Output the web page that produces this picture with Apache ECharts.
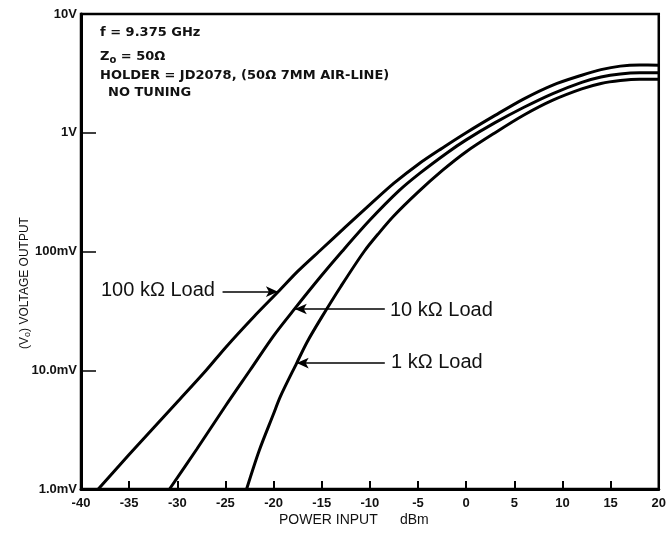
<!DOCTYPE html>
<html>
<head>
<meta charset="utf-8">
<script src="https://cdn.jsdelivr.net/npm/echarts@6/dist/echarts.min.js"></script>
<style>
html, body { margin: 0; padding: 0; background: #fff; }
#chart { width: 669px; height: 533px; }
</style>
</head>
<body>
<div id="chart"></div>
<script>
// power input (dBm) and output voltage (mV)
var x100k = [-38.2, -35, -30, -27, -25, -22, -19.5, -17.5, -15, -12.5, -10, -7.5, -5, -2.5, 0, 3, 6, 9, 12, 14, 16, 18, 20];
var v100k = [1.0, 1.95, 5.4, 10, 15.5, 28.5, 46, 68, 105, 162, 248, 376, 541, 741, 1000, 1400, 1930, 2520, 3050, 3400, 3640, 3720, 3710];

var x10k = [-30.8, -28, -25, -22.45, -20, -17.8, -15, -12.9, -10, -7, -4.8, -2, 0, 3, 6, 9, 12, 14, 16, 18, 20];
var v10k = [1.0, 2.15, 5.0, 10, 19.5, 33, 63, 100, 184, 324, 457, 676, 871, 1216, 1640, 2140, 2660, 2950, 3130, 3200, 3200];

var x1k = [-22.8, -21.5, -20, -19.3, -17.6, -16.5, -15, -13, -10.6, -9, -7.5, -5, -2.5, 0, 3, 6, 9, 12, 14, 16, 18, 20];
var v1k = [1.0, 2.1, 4.3, 6.0, 11.5, 17.4, 28, 51, 100, 145, 200, 316, 479, 692, 1000, 1410, 1880, 2340, 2600, 2750, 2820, 2820];

// arrow from label to curve: [x from, x to, level mV]
var arrow100k = [-25.3, -19.55, 45.9];
var arrow10k = [-8.45, -17.8, 32.8];
var arrow1k = [-8.45, -17.6, 11.5];

var yTickLabels = { 1: '1.0mV', 10: '10.0mV', 100: '100mV', 1000: '1V', 10000: '10V' };

function pairs(xs, ys) {
    return xs.map(function (x, i) { return [x, ys[i]]; });
}

function arrowLine(a) {
    return {
        silent: true,
        symbol: ['none', 'arrow'],
        symbolSize: [8, 12],
        lineStyle: { color: '#000', width: 1.6, type: 'solid' },
        label: { show: false },
        data: [[{ coord: [a[0], a[2]] }, { coord: [a[1], a[2]] }]]
    };
}

function curve(name, data, arrow) {
    return {
        name: name,
        type: 'line',
        data: data,
        smooth: 0.3,
        showSymbol: false,
        lineStyle: { color: '#000', width: 3 },
        markLine: arrowLine(arrow)
    };
}

var font = "'Liberation Sans', Arial, sans-serif";
var noteFont = "bold 13px 'DejaVu Sans', sans-serif";
var chart = echarts.init(document.getElementById('chart'));

var option = {
    animation: false,
    backgroundColor: '#fff',
    textStyle: { fontFamily: font },
    grid: {
        left: 81, right: 10, top: 14, bottom: 44,
        show: true, borderColor: '#000', borderWidth: 2.5
    },
    xAxis: {
        type: 'value',
        min: -40, max: 20, interval: 5,
        axisLine: { onZero: false, lineStyle: { color: '#000', width: 3 } },
        axisTick: { inside: true, length: 8, lineStyle: { color: '#000', width: 2 } },
        axisLabel: { color: '#111', fontSize: 13, fontWeight: 'bold', margin: 8, fontFamily: font },
        splitLine: { show: false }
    },
    yAxis: {
        type: 'log',
        logBase: 10,
        min: 1, max: 10000,
        axisLine: { show: true, onZero: false, lineStyle: { color: '#000', width: 3 } },
        axisTick: { show: true, inside: true, length: 15, lineStyle: { color: '#000', width: 1.5 } },
        axisLabel: {
            color: '#111', fontSize: 13, fontWeight: 'bold', margin: 4, fontFamily: font,
            formatter: function (v) { return yTickLabels[Math.round(v)] || ''; }
        },
        splitLine: { show: false }
    },
    series: [
        curve('100 kΩ Load', pairs(x100k, v100k), arrow100k),
        curve('10 kΩ Load', pairs(x10k, v10k), arrow10k),
        curve('1 kΩ Load', pairs(x1k, v1k), arrow1k)
    ],
    graphic: [
        { type: 'text', left: 100, top: 26, style: { text: 'f = 9.375 GHz', font: noteFont, fill: '#111' } },
        { type: 'text', left: 100, top: 50, style: {
            text: 'Z{s|o} = 50Ω', font: noteFont, fill: '#111',
            rich: { s: { fontSize: 10, fontWeight: 'bold', padding: [7, 0, 0, 0], fontFamily: 'DejaVu Sans' } }
        } },
        { type: 'text', left: 100, top: 69, style: { text: 'HOLDER = JD2078, (50Ω 7MM AIR-LINE)', font: noteFont, fill: '#111' } },
        { type: 'text', left: 108, top: 86, style: { text: 'NO TUNING', font: noteFont, fill: '#111' } },

        { type: 'text', left: 101, top: 280, style: { text: '100 kΩ Load', font: '20px ' + font, fill: '#111' } },
        { type: 'text', left: 390, top: 300, style: { text: '10 kΩ Load', font: '20px ' + font, fill: '#111' } },
        { type: 'text', left: 391, top: 352, style: { text: '1 kΩ Load', font: '20px ' + font, fill: '#111' } },

        { type: 'text', left: 279, top: 513, style: { text: 'POWER INPUT', font: '14px ' + font, fill: '#111' } },
        { type: 'text', left: 400, top: 513, style: { text: 'dBm', font: '14px ' + font, fill: '#111' } },

        { type: 'text', x: 25, y: 283, rotation: Math.PI / 2, style: {
            text: '(V{s|o}) VOLTAGE OUTPUT', font: '12px ' + font, fill: '#111',
            align: 'center', verticalAlign: 'middle',
            rich: { s: { fontSize: 9, padding: [6, 0, 0, 0], fontFamily: font } }
        } }
    ]
};

chart.setOption(option);
window.addEventListener('resize', function () {
    chart.resize();
});
</script>
</body>
</html>
